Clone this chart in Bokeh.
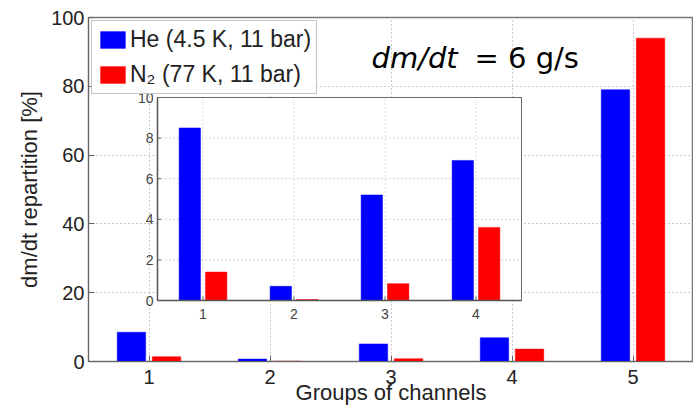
from bokeh.plotting import figure
from bokeh.models import Range1d, Legend, LegendItem, Label, FixedTicker, ColumnDataSource
from bokeh.core.properties import value
from bokeh.embed import file_html
from bokeh.resources import INLINE

# ---- data ----
groups = [1, 2, 3, 4, 5]
group_labels = ["1", "2", "3", "4", "5"]
he_main = [8.5, 0.7, 5.1, 6.9, 79.0]
n2_main = [1.4, 0.1, 0.8, 3.6, 94.0]

inset_groups = [1, 2, 3, 4]
inset_labels = ["1", "2", "3", "4"]
he_inset = [8.5, 0.7, 5.2, 6.9]
n2_inset = [1.4, 0.05, 0.83, 3.6]
inset_yticks = [0, 2, 4, 6, 8, 10]
main_yticks = [0, 20, 40, 60, 80, 100]

he_name = "He (4.5 K, 11 bar)"
n2_name = "N\u2082 (77 K, 11 bar)"
ylabel = "dm/dt repartition [%]"
xlabel = "Groups of channels"

# ---- layout constants (screen px) ----
W, H = 693, 408
LEFT, TOP, BOTTOM = 88, 17, 47
FRAME_W = W - LEFT
FRAME_H = H - TOP - BOTTOM
FR_TOP, FR_BOT = TOP, H - BOTTOM
IX0, IX1, IY_TOP, IY_BOT = 157, 521, 97, 300

BLUE = "#0000ff"
RED = "#ff0000"
OFF = 0.145
BW = 0.235
FONT = "Liberation Sans"

p = figure(width=W, height=H, output_backend="svg", toolbar_location=None,
           x_range=Range1d(0.5, 5.5), y_range=Range1d(0, 100),
           min_border_left=LEFT, min_border_right=0, min_border_top=TOP,
           min_border_bottom=BOTTOM)
p.background_fill_color = "white"
p.border_fill_color = "white"
p.outline_line_color = "#777777"
p.outline_line_width = 1.5

# inset ranges mapped so that inset data (0.5..4.5, 0..10) sits at the inset box
ipx = 4.0 / (IX1 - IX0)
ipy = 10.0 / (IY_BOT - IY_TOP)
p.extra_x_ranges = {"ix": Range1d(0.5 - (IX0 - LEFT) * ipx, 4.5 + (W - IX1) * ipx)}
p.extra_y_ranges = {"iy": Range1d(0 - (FR_BOT - IY_BOT) * ipy, 10 + (IY_TOP - FR_TOP) * ipy)}

# main axes style
for ax in (p.xaxis[0], p.yaxis[0]):
    ax.axis_line_color = "#666666"
    ax.major_tick_line_color = "#666666"
    ax.major_tick_in = 6
    ax.major_tick_out = 0
    ax.minor_tick_line_color = None
    ax.major_label_text_font = FONT
    ax.major_label_text_font_size = "20px"
    ax.major_label_text_color = "#222222"
    ax.axis_label_text_font = FONT
    ax.axis_label_text_font_size = "22px"
    ax.axis_label_text_font_style = "normal"
    ax.axis_label_text_color = "#222222"

p.xaxis.ticker = FixedTicker(ticks=groups)
p.xaxis.major_label_overrides = {g: l for g, l in zip(groups, group_labels)}
p.yaxis.ticker = FixedTicker(ticks=main_yticks)
p.xaxis.axis_label = xlabel
p.yaxis.axis_label = ylabel
p.xaxis.major_label_standoff = 8
p.xaxis.axis_label_standoff = -7
p.yaxis.major_label_standoff = 4
p.yaxis.axis_label_standoff = 6

p.xgrid.grid_line_color = "#999999"
p.ygrid.grid_line_color = "#999999"
p.xgrid.grid_line_dash = "1 3"
p.ygrid.grid_line_dash = "1 3"

# main bars
src = ColumnDataSource(dict(
    xb=[g - OFF for g in groups], xr=[g + OFF for g in groups], he=he_main, n2=n2_main))
r_he = p.vbar(x="xb", top="he", bottom=0, width=BW, source=src,
              fill_color=BLUE, line_color=BLUE, line_width=0.5)
r_n2 = p.vbar(x="xr", top="n2", bottom=0, width=BW, source=src,
              fill_color=RED, line_color=RED, line_width=0.5)

# ---- inset ----
p.quad(left=0.5, right=4.5, bottom=0, top=10, x_range_name="ix", y_range_name="iy",
       fill_color="white", line_color="#666666", line_width=1)
# inset grid
gy = inset_yticks[1:-1]
p.segment(x0=[0.5] * len(gy), x1=[4.5] * len(gy), y0=gy, y1=gy,
          x_range_name="ix", y_range_name="iy",
          line_color="#aaaaaa", line_dash="1 3", line_width=1)
p.segment(x0=inset_groups, x1=inset_groups, y0=[0] * 4, y1=[10] * 4,
          x_range_name="ix", y_range_name="iy",
          line_color="#bbbbbb", line_dash="1 3", line_width=1)
# inset ticks
p.segment(x0=[0.5] * len(inset_yticks), x1=[0.54] * len(inset_yticks),
          y0=inset_yticks, y1=inset_yticks, x_range_name="ix", y_range_name="iy",
          line_color="#666666")
p.segment(x0=inset_groups, x1=inset_groups, y0=[0] * 4, y1=[0.2] * 4,
          x_range_name="ix", y_range_name="iy", line_color="#666666")

isrc = ColumnDataSource(dict(
    xb=[g - OFF for g in inset_groups], xr=[g + OFF for g in inset_groups],
    he=he_inset, n2=n2_inset))
p.vbar(x="xb", top="he", bottom=0, width=BW, source=isrc, x_range_name="ix", y_range_name="iy",
       fill_color=BLUE, line_color=BLUE, line_width=0.5)
p.vbar(x="xr", top="n2", bottom=0, width=BW, source=isrc, x_range_name="ix", y_range_name="iy",
       fill_color=RED, line_color=RED, line_width=0.5)
# inset axis lines (on top)
p.segment(x0=[0.5, 0.5], x1=[4.5, 0.5], y0=[0, 0], y1=[0, 10],
          x_range_name="ix", y_range_name="iy", line_color="#555555", line_width=1.5)

# inset tick labels
p.text(x=[0.5] * len(inset_yticks), y=inset_yticks, text=[str(t) for t in inset_yticks],
       x_range_name="ix", y_range_name="iy", x_offset=-4,
       text_align="right", text_baseline="middle",
       text_font=value(FONT), text_font_size="14px", text_color="#444444")
p.text(x=inset_groups, y=[0] * 4, text=inset_labels,
       x_range_name="ix", y_range_name="iy", y_offset=8,
       text_align="center", text_baseline="top",
       text_font=value(FONT), text_font_size="14px", text_color="#444444")

# legend
legend = Legend(items=[LegendItem(label=he_name, renderers=[r_he]),
                       LegendItem(label=n2_name, renderers=[r_n2])],
                location="top_left", margin=3, padding=5, spacing=8,
                glyph_width=31, glyph_height=21, label_height=21, label_standoff=2,
                label_text_font=FONT, label_text_font_size="23px",
                label_text_color="#222222",
                border_line_color="#888888", border_line_width=1,
                background_fill_color="white", background_fill_alpha=1.0)
p.add_layout(legend)

# annotation helpers (screen px -> main data coords)
def sx(px):
    return 0.5 + (px - LEFT) / FRAME_W * 5.0

def sy(py):
    return (FR_BOT - py) / FRAME_H * 100.0

p.add_layout(Label(x=sx(371), y=sy(57), text="dm/dt", text_font="DejaVu Sans",
                   text_font_style="italic", text_font_size="29px", text_color="black",
                   text_baseline="alphabetic"))
p.add_layout(Label(x=sx(474), y=sy(57), text="= 6 g/s", text_font="DejaVu Sans",
                   text_font_size="29px", text_color="black", text_baseline="alphabetic"))

open("out.html", "w").write(file_html(p, INLINE))
